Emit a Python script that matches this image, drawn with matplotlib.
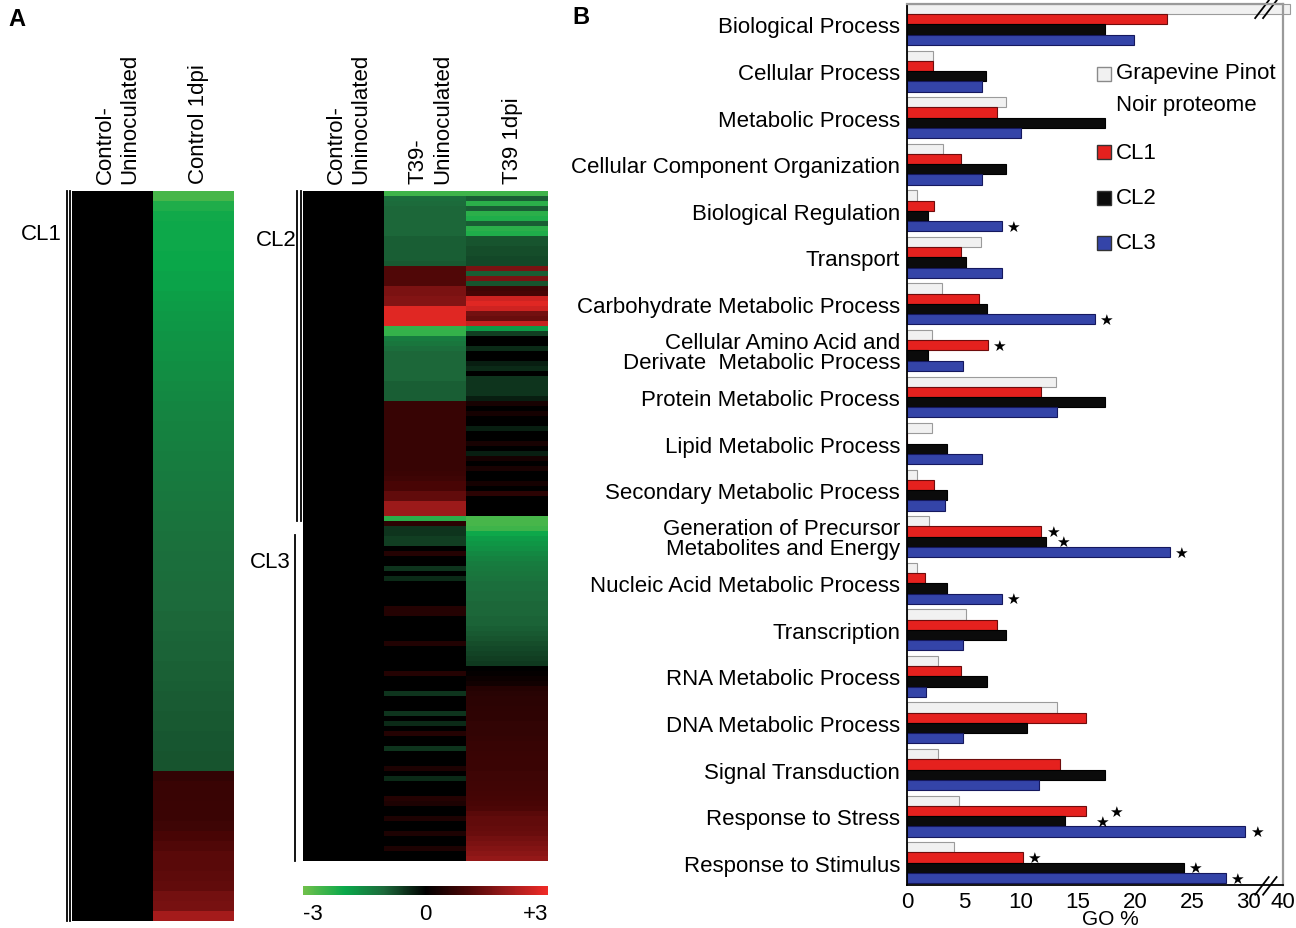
import numpy as np
import matplotlib
matplotlib.use("Agg")
import matplotlib.pyplot as plt
from matplotlib.colors import LinearSegmentedColormap, Normalize
from matplotlib.cm import ScalarMappable
from matplotlib.lines import Line2D
from matplotlib.patches import Rectangle

plt.rcParams['font.family'] = ['Liberation Sans', 'DejaVu Sans']
plt.rcParams['font.size'] = 16

W, H = 1296, 929

#1) panel A data (log ratio vs control, one value per heatmap row)
cl1_labels = ["Control-\nUninoculated", "Control 1dpi"]
cl1_control_1dpi = [
    -2.6, -2.2, -2.05, -2.0, -2.0, -2.0, -1.95, -1.95, -1.9, -1.9,
    -1.85, -1.8, -1.75, -1.72, -1.68, -1.65, -1.62, -1.58, -1.55, -1.52,
    -1.5, -1.45, -1.42, -1.4, -1.37, -1.35, -1.33, -1.3, -1.28, -1.26,
    -1.24, -1.2, -1.18, -1.16, -1.14, -1.12, -1.1, -1.08, -1.06, -1.05,
    -1.04, -1.02, -1.0, -0.99, -0.98, -0.96, -0.95, -0.93, -0.92, -0.9,
    -0.89, -0.88, -0.86, -0.85, -0.84, -0.83, -0.82, -0.8, 0.7, 0.78,
    0.78, 0.8, 0.8, 0.85, 1.0, 1.1, 1.2, 1.2, 1.25, 1.3,
    1.5, 1.55, 2.1,
]

cl23_labels = ["Control-\nUninoculated", "T39-\nUninoculated", "T39 1dpi"]
t39_uninoculated = [
    -2.5, -1.1, -1.05, -1.0, -1.0, -1.0, -1.0, -1.0, -1.0, -0.9,
    -0.9, -0.9, -0.9, -0.9, -0.85, 1.1, 1.1, 1.1, 1.1, 1.6,
    1.6, 1.7, 1.7, 2.8, 2.8, 2.8, 2.8, -2.4, -2.4, -1.3,
    -1.2, -1.1, -1.0, -1.0, -1.0, -1.0, -1.0, -1.0, -0.9, -0.9,
    -0.9, -0.9, 0.75, 0.75, 0.75, 0.75, 0.75, 0.75, 0.75, 0.75,
    0.75, 0.75, 0.75, 0.75, 0.75, 0.75, 0.8, 0.85, 1.0, 1.0,
    1.3, 1.3, 2.0, 2.0, 2.0, -2.3, 0.6, -0.5, -0.5, -0.6,
    -0.6, 0, 0.5, 0, 0, -0.5, 0, -0.4, 0, 0,
    0, 0, 0, 0.5, 0.5, 0, 0, 0, 0, 0,
    0.45, 0, 0, 0, 0, 0, 0.5, 0, 0, 0,
    -0.5, 0, 0, 0, -0.5, 0, -0.4, 0, 0.5, 0,
    0, -0.5, 0, 0, 0, 0.4, 0, -0.4, 0, 0,
    0, 0.5, 0.4, 0, 0, 0.4, 0, 0, 0.4, 0,
    0, 0.4, 0, 0,
]
t39_1dpi = [
    -2.5, -0.9, -2.3, -0.9, -2.3, -2.2, -0.9, -2.3, -2.2, -0.8,
    -0.8, -0.75, -0.75, -0.7, -0.7, 1.6, -0.9, 1.6, -0.8, 0.9,
    1.0, 2.6, 2.8, 2.6, 1.5, 1.4, 2.5, -1.8, -0.6, 0,
    0, -0.4, 0, 0, -0.3, -0.4, 0, -0.5, -0.5, -0.5,
    -0.5, -0.3, 0.35, 0, 0.3, 0, 0, -0.3, 0, 0,
    0.35, 0, -0.3, 0.3, 0, 0.35, 0, 0, 0.3, 0,
    0.6, 0, 0, 0, 0, -2.6, -2.6, -2.5, -2.0, -1.8,
    -1.7, -1.6, -1.5, -1.4, -1.3, -1.25, -1.2, -1.15, -1.1, -1.1,
    -1.05, -1.05, -1.0, -1.0, -1.0, -0.95, -0.95, -0.9, -0.85, -0.8,
    -0.75, -0.7, -0.65, -0.6, -0.55, 0, 0.05, 0.15, 0.25, 0.5,
    0.55, 0.6, 0.6, 0.62, 0.65, 0.65, 0.68, 0.7, 0.7, 0.72,
    0.75, 0.75, 0.78, 0.8, 0.8, 0.82, 0.85, 0.85, 0.88, 0.9,
    0.92, 0.95, 1.0, 1.05, 1.2, 1.3, 1.3, 1.35, 1.4, 1.5,
    1.6, 1.7, 1.8, 1.9,
]
cbar_ticks = [-3, 0, 3]
cbar_ticklabels = ["-3", "0", "+3"]

#2) panel B data (GO %)
categories = [
    "Biological Process", "Cellular Process", "Metabolic Process",
    "Cellular Component Organization", "Biological Regulation", "Transport",
    "Carbohydrate Metabolic Process",
    "Cellular Amino Acid and\nDerivate  Metabolic Process",
    "Protein Metabolic Process", "Lipid Metabolic Process",
    "Secondary Metabolic Process",
    "Generation of Precursor\nMetabolites and Energy",
    "Nucleic Acid Metabolic Process", "Transcription", "RNA Metabolic Process",
    "DNA Metabolic Process", "Signal Transduction", "Response to Stress",
    "Response to Stimulus",
]
grapevine = [42, 2.3, 8.7, 3.2, 0.9, 6.5, 3.1, 2.2, 13.1, 2.2, 0.9, 1.9, 0.9, 5.2, 2.7, 13.2, 2.7, 4.6, 4.1]
cl1 = [22.8, 2.3, 7.9, 4.7, 2.4, 4.7, 6.3, 7.1, 11.8, 0, 2.4, 11.8, 1.6, 7.9, 4.7, 15.7, 13.4, 15.7, 10.2]
cl2 = [17.4, 6.9, 17.4, 8.7, 1.8, 5.2, 7.0, 1.8, 17.4, 3.5, 3.5, 12.2, 3.5, 8.7, 7.0, 10.5, 17.4, 13.9, 24.3]
cl3 = [19.9, 6.6, 10.0, 6.6, 8.3, 8.3, 16.5, 4.9, 13.2, 6.6, 3.3, 23.1, 8.3, 4.9, 1.7, 4.9, 11.6, 29.7, 28.0]
series_names = ["Grapevine Pinot\nNoir proteome", "CL1", "CL2", "CL3"]
# (category, series) pairs marked as significant
signif = [(4, 3), (6, 3), (7, 1), (11, 1), (11, 2), (11, 3), (12, 3),
          (17, 1), (17, 2), (17, 3), (18, 1), (18, 2), (18, 3)]
xticks = [0, 5, 10, 15, 20, 25, 30, 40]


def box(x0, y0, x1, y1):
    return [x0 / W, 1 - y1 / H, (x1 - x0) / W, (y1 - y0) / H]


def vline(x, y0, y1, lw=1.3):
    fig.add_artist(Line2D([x / W, x / W], [1 - y0 / H, 1 - y1 / H], color='black', lw=lw))


cmap = LinearSegmentedColormap.from_list("gr", [
    (0.0, '#6fc04b'), (0.17, '#0aa84a'), (0.33, '#1d6a3b'), (0.5, '#000000'),
    (0.67, '#4a0606'), (0.83, '#9a1a1a'), (1.0, '#f02a26')])
norm = Normalize(-3, 3)

fig = plt.figure(figsize=(W / 100, H / 100), dpi=100)

#3) heatmap CL1
ax_h1 = fig.add_axes(box(72, 192, 234, 922))
m1 = np.column_stack([np.zeros(len(cl1_control_1dpi)), cl1_control_1dpi])
ax_h1.imshow(m1, aspect='auto', cmap=cmap, norm=norm, interpolation='nearest')

#4) heatmap CL2/CL3
ax_h2 = fig.add_axes(box(303, 192, 548, 862))
m2 = np.column_stack([np.zeros(len(t39_1dpi)), t39_uninoculated, t39_1dpi])
ax_h2.imshow(m2, aspect='auto', cmap=cmap, norm=norm, interpolation='nearest')

for ax, labels in [(ax_h1, cl1_labels), (ax_h2, cl23_labels)]:
    ax.set_xticks(np.arange(len(labels)) + 0.06, labels, rotation=90, multialignment='left')
    ax.xaxis.tick_top()
    ax.tick_params(axis='x', length=0, pad=6)
    ax.set_yticks([])
    for s in ax.spines.values():
        s.set_visible(False)

# cluster brackets
vline(67, 192, 922)
vline(70, 192, 922)
vline(297, 192, 522)
vline(301, 192, 522)
vline(295, 536, 862)
fig.text(41 / W, 1 - 235 / H, "CL1", ha='center', va='center')
fig.text(276 / W, 1 - 240 / H, "CL2", ha='center', va='center')
fig.text(270 / W, 1 - 562 / H, "CL3", ha='center', va='center')

#5) colour scale
cax = fig.add_axes(box(303, 887, 548, 896))
cb = fig.colorbar(ScalarMappable(norm=norm, cmap=cmap), cax=cax, orientation='horizontal')
cb.outline.set_visible(False)
cb.set_ticks(cbar_ticks, labels=cbar_ticklabels)
cax.tick_params(length=0, pad=6, labelsize=16)
tl = cax.get_xticklabels()
tl[0].set_ha('left')
tl[-1].set_ha('right')

#6) panel B bars, x axis broken after 30
def fwd(x):
    x = np.asarray(x, dtype=float)
    return np.where(x <= 30, x, 30 + (x - 30) * 0.3)


def inv(x):
    x = np.asarray(x, dtype=float)
    return np.where(x <= 30, x, 30 + (x - 30) / 0.3)


ax_b = fig.add_axes(box(907, 5, 1283, 886))
ax_b.set_xscale('function', functions=(fwd, inv))
y = np.arange(len(categories))
h = 0.22
series = [grapevine, cl1, cl2, cl3]
faces = ['#f1f1f1', '#e5211e', '#0b0b0b', '#3444a8']
edges = ['#9b9b9b', '#6e0c0c', '#000000', '#15185e']
for k, vals in enumerate(series):
    ax_b.barh(y + (k - 1.5) * h, vals, height=h, color=faces[k],
              edgecolor=edges[k], lw=0.8, clip_on=False, zorder=2)

star_shift = {(17, 1): 14, (17, 2): 18, (11, 2): 4}
for c, k in signif:
    dx = star_shift.get((c, k), 0)
    ax_b.annotate('★', (series[k][c], y[c] + (k - 1.5) * h), xytext=(3 + dx, 0),
                  textcoords='offset points', ha='left', va='center',
                  fontsize=11, family='DejaVu Sans', annotation_clip=False)

ax_b.set_xlim(0, 40)
ax_b.set_ylim(len(categories) - 0.52, -0.44)
ax_b.set_yticks(y, categories, linespacing=0.95)
ax_b.set_xticks(xticks, [str(v) for v in xticks])
ax_b.minorticks_off()
ax_b.tick_params(axis='y', length=0, pad=5)
ax_b.tick_params(axis='x', length=0, pad=4)
ax_b.set_xlabel("GO %", fontsize=15)
ax_b.xaxis.set_label_coords(0.54, -0.0275)
ax_b.spines['left'].set_linewidth(1.3)
ax_b.spines['bottom'].set_linewidth(1.3)
for s in ['top', 'right']:
    ax_b.spines[s].set_color('#9a9a9a')
    ax_b.spines[s].set_linewidth(1.6)

# legend
leg_y = [0.9205, 0.832, 0.780, 0.729]
for k in range(4):
    ax_b.add_patch(Rectangle((0.505, leg_y[k] - 0.008), 0.037, 0.016, transform=ax_b.transAxes,
                             facecolor=faces[k], edgecolor='#333333' if k else '#8a8a8a', lw=1.0))
    ax_b.text(0.556, leg_y[k], series_names[k], transform=ax_b.transAxes, va='top' if k == 0 else 'center',
              ha='left', linespacing=1.7)
ax_b.texts[-4].set_y(leg_y[0] + 0.014)

# break marks
for x0 in [0.926, 0.947]:
    ax_b.plot([x0, x0 + 0.036], [-0.011, 0.009], color='black', lw=1.3, transform=ax_b.transAxes, clip_on=False)
    ax_b.plot([x0, x0 + 0.036], [0.984, 1.004], color='black', lw=1.3, transform=ax_b.transAxes, clip_on=False)

fig.text(8 / W, 1 - 20 / H, "A", weight='bold', fontsize=17, ha='left', va='center')
fig.text(572 / W, 1 - 18 / H, "B", weight='bold', fontsize=17, ha='left', va='center')

fig.savefig("out.png", dpi=100)
